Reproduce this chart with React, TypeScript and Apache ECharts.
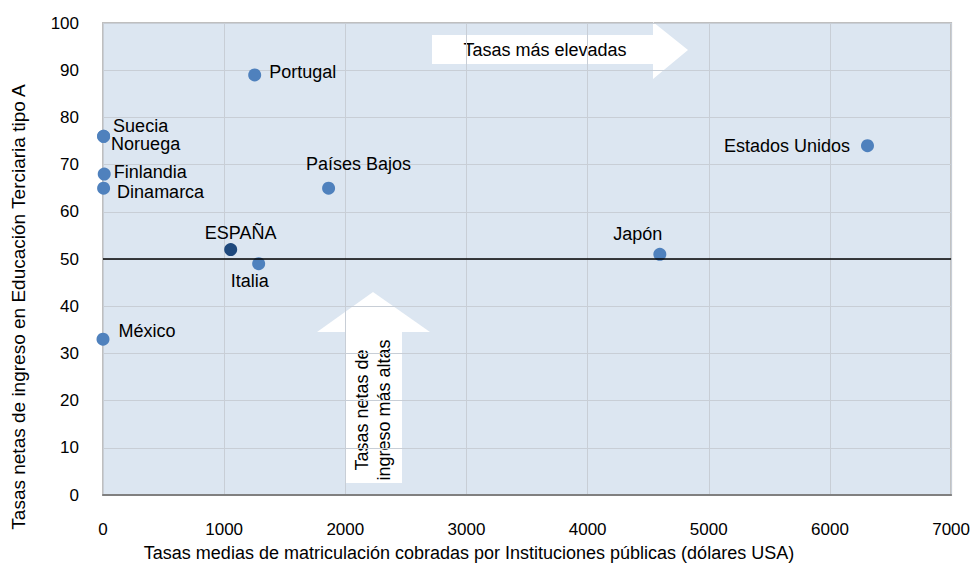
import React, { useEffect, useRef } from "react";
import * as echarts from "echarts";

const countries = ["Portugal", "Suecia", "Noruega", "Finlandia", "Dinamarca", "Países Bajos", "ESPAÑA", "Italia", "México", "Japón", "Estados Unidos"];
const fees = [1252, 5, 5, 10, 5, 1862, 1054, 1285, 0, 4596, 6310];
const entryRates = [89, 76, 76, 68, 65, 65, 52, 49, 33, 51, 74];
const xTicks = [0, 1000, 2000, 3000, 4000, 5000, 6000, 7000];
const yTicks = [0, 10, 20, 30, 40, 50, 60, 70, 80, 90, 100];
const referenceRate = 50;

const labelLayout: Record<string, any> = {
  Portugal: { position: "right", distance: 8, offset: [0, -3] },
  Suecia: { position: "right", distance: 3, offset: [0, -10] },
  Noruega: { position: "right", distance: 1, offset: [0, 8] },
  Finlandia: { position: "right", distance: 3, offset: [0, -2] },
  Dinamarca: { position: "right", distance: 7, offset: [0, 4] },
  "Países Bajos": { position: "top", distance: 5, offset: [30, -4] },
  ESPAÑA: { position: "top", distance: 5, offset: [10, 4] },
  Italia: { position: "bottom", distance: 5, offset: [-9, -3] },
  México: { position: "right", distance: 9, offset: [0, -8] },
  Japón: { position: "top", distance: 5, offset: [-22, 0] },
  "Estados Unidos": { position: "left", distance: 11, offset: [0, 0] },
};

export default function App() {
  const ref = useRef<HTMLDivElement>(null);
  useEffect(() => {
    const chart = echarts.init(ref.current!, null, { renderer: "svg" });
    const font = "Liberation Sans, Arial, sans-serif";
    const data = countries.map((name, i) => ({
      name,
      value: [fees[i], entryRates[i]],
      itemStyle: { color: name === "ESPAÑA" ? "#1F497D" : "#4F81BD", opacity: 1 },
      label: { show: true, formatter: name, color: "#000", fontSize: 18, fontFamily: font, ...labelLayout[name] },
    }));
    chart.setOption({
      animation: false,
      textStyle: { fontFamily: font },
      grid: { left: 103, right: 20, top: 23, bottom: 68, show: true, backgroundColor: "#DCE6F1", borderColor: "#BFBFBF", borderWidth: 2 },
      xAxis: {
        type: "value",
        min: xTicks[0],
        max: xTicks[xTicks.length - 1],
        interval: 1000,
        axisLine: { show: true, lineStyle: { color: "#808080", width: 2 } },
        axisTick: { show: false },
        axisLabel: { color: "#000", fontSize: 17, margin: 26, fontFamily: font, formatter: (v: number) => String(v) },
        splitLine: { show: true, lineStyle: { color: "#C8CED6", width: 1 } },
      },
      yAxis: {
        type: "value",
        min: yTicks[0],
        max: yTicks[yTicks.length - 1],
        interval: 10,
        axisLine: { show: false },
        axisTick: { show: false },
        axisLabel: { color: "#000", fontSize: 17, margin: 24, fontFamily: font, formatter: (v: number) => String(v) },
        splitLine: { show: true, lineStyle: { color: "#C8CED6", width: 1 } },
      },
      series: [
        {
          type: "scatter",
          symbolSize: 13,
          data,
          markLine: {
            silent: true,
            symbol: "none",
            label: { show: false },
            lineStyle: { color: "#000", width: 1.5, type: "solid" },
            data: [{ yAxis: referenceRate }],
          },
        },
      ],
      graphic: [
        {
          type: "polygon",
          shape: { points: [[432, 35], [653, 35], [653, 22], [688, 50], [653, 79], [653, 64], [432, 64]] },
          style: { fill: "#FFFFFF" },
        },
        {
          type: "text",
          x: 545,
          y: 50,
          style: { text: "Tasas más elevadas", fill: "#000", fontSize: 18, fontFamily: font, align: "center", verticalAlign: "middle" },
        },
        {
          type: "polygon",
          shape: { points: [[373, 292], [430, 332], [402, 332], [402, 483], [345, 483], [345, 332], [317, 332]] },
          style: { fill: "#FFFFFF" },
        },
        {
          type: "text",
          x: 373,
          y: 410,
          rotation: Math.PI / 2,
          style: { text: "Tasas netas de\ningreso más altas", fill: "#000", fontSize: 18, lineHeight: 22, fontFamily: font, align: "center", verticalAlign: "middle" },
        },
        {
          type: "text",
          x: 18,
          y: 307,
          rotation: Math.PI / 2,
          style: { text: "Tasas netas de ingreso en Educación Terciaria tipo A", fill: "#000", fontSize: 19, fontFamily: font, align: "center", verticalAlign: "middle" },
        },
        {
          type: "text",
          x: 469,
          y: 553,
          style: { text: "Tasas medias de matriculación cobradas por Instituciones públicas (dólares USA)", fill: "#000", fontSize: 18, fontFamily: font, align: "center", verticalAlign: "middle" },
        },
      ],
    });
    return () => chart.dispose();
  }, []);
  return <div ref={ref} style={{ width: 973, height: 563, position: "absolute", left: 0, top: 0 }} />;
}
